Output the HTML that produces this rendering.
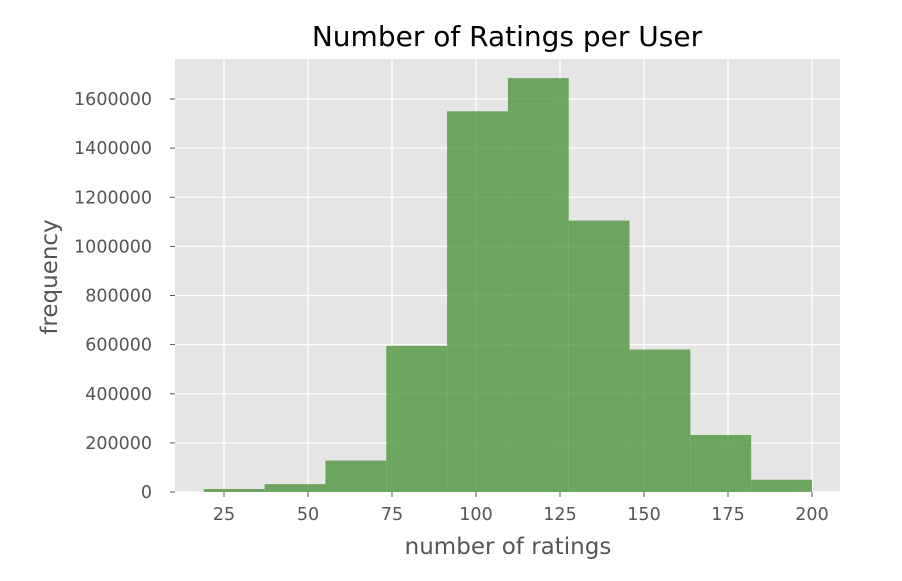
<!DOCTYPE html>
<html><head><meta charset="utf-8"><style>
body{margin:0;background:#fff;}
svg text{font-family:"DejaVu Sans","Liberation Sans",sans-serif;}
</style></head><body>
<svg id="chart" width="902" height="576">
<rect x="175" y="59" width="665" height="433" fill="#e5e5e5"/>
<g id="grid"></g><g id="bars"></g><g id="axes"></g>
<text x="507" y="46" text-anchor="middle" font-size="28" fill="#000">Number of Ratings per User</text>
<text x="508" y="554" text-anchor="middle" font-size="23" fill="#555">number of ratings</text>
<text transform="translate(57,277) rotate(-90)" text-anchor="middle" font-size="23" fill="#555">frequency</text>
</svg>
<script>
const binEdges=[19,37.1,55.2,73.3,91.4,109.5,127.6,145.7,163.8,181.9,200];
const counts=[12000,32000,128000,595000,1550000,1685000,1105000,580000,232000,50000];
const xTicks=[25,50,75,100,125,150,175,200];
const yTicks=[0,200000,400000,600000,800000,1000000,1200000,1400000,1600000];
const NS="http://www.w3.org/2000/svg";
const L=175,R=840,T=59,B=492;
function xs(v){return 224+(v-25)*588/175;}
function ys(v){return B-v*(B-99)/1600000;}
const grid=document.getElementById('grid'),bars=document.getElementById('bars'),axes=document.getElementById('axes');
function mk(tag,attrs,parent){const e=document.createElementNS(NS,tag);for(const k in attrs)e.setAttribute(k,attrs[k]);parent.appendChild(e);return e;}
xTicks.forEach(t=>{const x=xs(t);
const g=mk('line',{x1:x,x2:x,y1:T,y2:B,stroke:'#fff','stroke-width':1.3},grid);


mk('line',{x1:x,x2:x,y1:B,y2:B+5,stroke:'#555'},axes);
const tx=mk('text',{x:x,y:B+28,'text-anchor':'middle','font-size':17.5,fill:'#555'},axes);tx.textContent=t;

});
yTicks.forEach(t=>{const y=ys(t);
const g=mk('line',{x1:L,x2:R,y1:y,y2:y,stroke:'#fff','stroke-width':1.3},grid);


mk('line',{x1:L-5,x2:L,y1:y,y2:y,stroke:'#555'},axes);
const tx=mk('text',{x:L-23,y:y+6,'text-anchor':'end','font-size':17.5,fill:'#555'},axes);tx.textContent=t;

});
counts.forEach((c,i)=>{const x0=xs(binEdges[i]),x1=xs(binEdges[i+1]);
const r=mk('rect',{x:x0,y:ys(c),width:x1-x0,height:B-ys(c),fill:'#4a9438','fill-opacity':0.78},bars);

});
</script>
</body></html>
